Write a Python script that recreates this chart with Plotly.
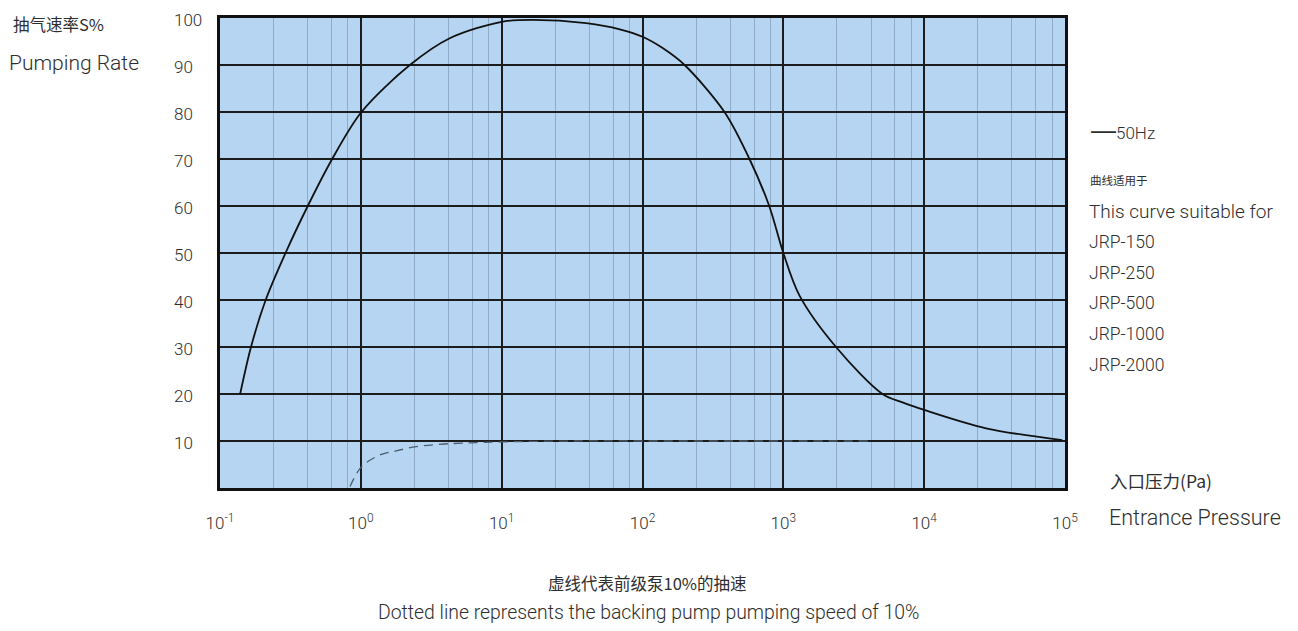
import plotly.graph_objects as go

# Main 50Hz pumping-rate curve (entrance pressure in Pa, pumping rate %)
pressure = [0.139, 0.166, 0.211, 0.292, 0.420, 0.626, 1.01, 2.23, 4.28, 10.0, 16.7,
            39.8, 69.0, 100.0, 139, 199, 382, 575, 794, 1000, 1300, 2366, 5058,
            7015, 10000, 27500, 95500]
rate = [20, 30, 40, 50, 60, 70, 80, 90, 95.7, 99.2, 99.6,
        98.9, 97.6, 96.0, 93.6, 90, 80, 70, 60, 50, 41, 30, 20,
        18.2, 16.6, 12.7, 10.2]

# Dotted line: backing pump pumping speed (10%)
bp_pressure = [0.838, 1.01, 1.36, 1.78, 2.48, 3.63, 5.25, 10.0, 31.6, 100, 1000, 3980]
bp_rate = [0.3, 4.5, 7.0, 7.9, 8.8, 9.3, 9.55, 9.8, 10, 10, 10, 10]

x_tick_vals = [0.1, 1, 10, 100, 1000, 10000, 100000]
x_tick_text = ["10<sup>-1</sup>", "10<sup>0</sup>", "10<sup>1</sup>", "10<sup>2</sup>",
               "10<sup>3</sup>", "10<sup>4</sup>", "10<sup>5</sup>"]
y_ticks = [10, 20, 30, 40, 50, 60, 70, 80, 90, 100]
minor_mult = [2.4, 4.2, 6.2, 8.1]
models = ["JRP-150", "JRP-250", "JRP-500", "JRP-1000", "JRP-2000"]

minor_vals = [m * d for d in x_tick_vals[:-1] for m in minor_mult]

FONT = "Roboto, Liberation Sans, sans-serif"
CJK = "Noto Sans CJK SC"
TXT = "#2e2e2e"

fig = go.Figure()
fig.add_trace(go.Scatter(x=bp_pressure, y=bp_rate, mode="lines",
                         line=dict(color="#4d5d6e", width=1.3, dash="9px,6px", shape="spline"),
                         showlegend=False, hoverinfo="skip"))
fig.add_trace(go.Scatter(x=pressure, y=rate, mode="lines",
                         line=dict(color="#111111", width=1.8, shape="spline", smoothing=0.9),
                         showlegend=False))

fig.update_layout(
    width=1298, height=631,
    margin=dict(l=220, r=233, t=18, b=143),
    paper_bgcolor="white",
    plot_bgcolor="#b5d5f2",
    font=dict(family=FONT, color=TXT),
    xaxis=dict(type="log", range=[-1, 5], tickvals=x_tick_vals, ticktext=x_tick_text,
               showgrid=True, gridcolor="#1c1c1c", gridwidth=2,
               minor=dict(tickvals=minor_vals, showgrid=True, gridcolor="#90abc8",
                          gridwidth=1, ticks=""),
               showline=True, mirror=True, linecolor="#111111", linewidth=3,
               ticks="", ticklabelstandoff=18, tickfont=dict(size=17, color=TXT, weight=300),
               zeroline=False),
    yaxis=dict(range=[0, 100], tickvals=y_ticks, showticklabels=False,
               showgrid=True, gridcolor="#1c1c1c", gridwidth=2,
               showline=True, mirror=True, linecolor="#111111", linewidth=3,
               ticks="", zeroline=False),
)

# plot area in pixels: x 220..1065, y 18..488
def px(xp):
    return (xp - 220) / 845.0

def py(yp):
    return (488 - yp) / 470.0

def txt(x, y, s, size, family=FONT, xanchor="left", weight=300):
    fig.add_annotation(x=px(x), y=py(y), xref="paper", yref="paper", text=s, showarrow=False,
                       xanchor=xanchor, yanchor="middle",
                       font=dict(size=size, family=family, color=TXT, weight=weight))

# left-aligned y tick labels
for v in y_ticks:
    fig.add_annotation(x=px(172), y=v, xref="paper", yref="y", text=str(v), showarrow=False,
                       xanchor="left", yanchor="middle", yshift=-2,
                       font=dict(size=17, family=FONT, color=TXT, weight=300))

txt(11, 24, "抽气速率S%", 16.5, CJK, weight=400)
txt(7, 63, "Pumping Rate", 21)
txt(1089, 130,
    '<span style="font-family:Liberation Sans;font-size:25px">—</span>50Hz', 17)
txt(1088, 180, "曲线适用于", 11.5, CJK, weight=400)
txt(1087, 211, "This curve suitable for", 19)
for i, m in enumerate(models):
    txt(1087, 242 + i * 30.7, m, 17.5)
txt(1108, 480, "入口压力(Pa)", 17.5, CJK, weight=400)
txt(1107, 517, "Entrance Pressure", 21.5)
txt(647, 583, "虚线代表前级泵10%的抽速", 16.5, CJK, "center", weight=400)
txt(648, 612, "Dotted line represents the backing pump pumping speed of 10%", 19.4,
    FONT, "center")

fig.write_html("out.html", config={"displayModeBar": False},
               post_script="document.body.style.margin='0px';")
